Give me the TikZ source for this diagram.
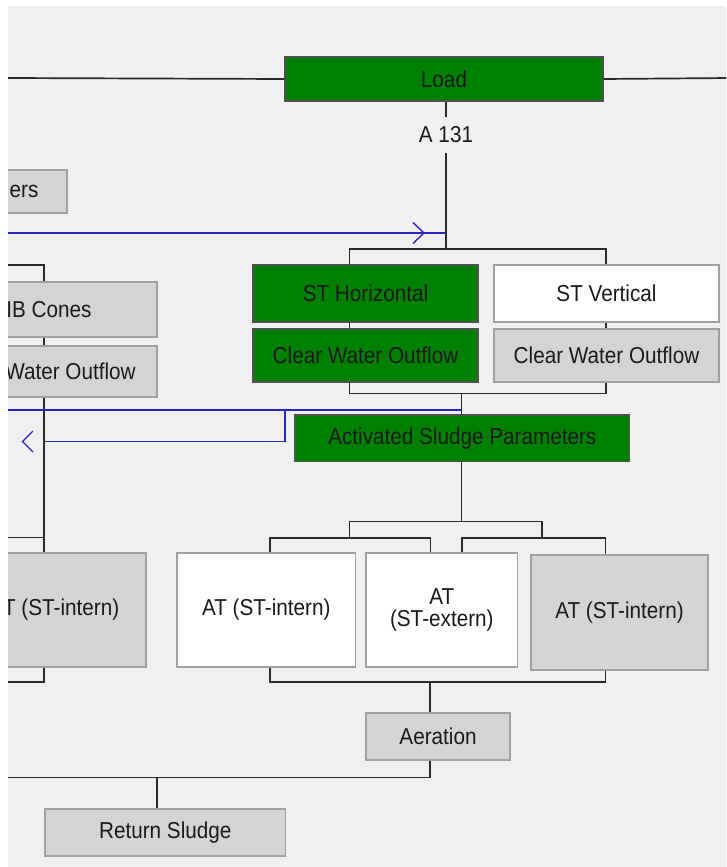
\documentclass[tikz,border=0pt]{standalone}
\usepackage{fontspec}
\setmainfont[FakeStretch=0.9]{Liberation Sans}
\definecolor{bgcol}{HTML}{F0F0F0}
\definecolor{grn}{HTML}{008000}
\definecolor{grayfill}{HTML}{D4D4D4}
\definecolor{grayline}{HTML}{A0A0A0}
\definecolor{grnline}{HTML}{505050}
\definecolor{txt}{HTML}{1A1A1A}
\definecolor{conncol}{HTML}{2A2A2A}
\definecolor{bluecol}{HTML}{2626C0}
\begin{document}
\begin{tikzpicture}[x=1pt,y=-1pt,
  boxbase/.style={line width=1.3pt, inner sep=0pt, font=\fontsize{23}{25}\selectfont, text=txt, align=center},
  greenbox/.style={boxbase, fill=grn, draw=grnline},
  graybox/.style={boxbase, fill=grayfill, draw=grayline},
  whitebox/.style={boxbase, fill=white, draw=grayline},
  plaintext/.style={inner sep=0pt, font=\fontsize{23}{25}\selectfont, text=txt},
  conn/.style={draw=conncol, line width=1.7pt},
  blueconn/.style={draw=bluecol, line width=1.4pt}]
\useasboundingbox (0,0) rectangle (726,867);
\fill[white] (0,0) rectangle (726,867);
\fill[bgcol] (8,6) rectangle (726,867);
\begin{scope}
\clip (8,6) rectangle (726,867);
% nodes
\node[greenbox, minimum width=318pt, minimum height=44pt] (load) at (444,79) {Load};
\node[graybox, minimum width=224pt, minimum height=43pt] (ers) at (-45,191.5) {};
\node[plaintext] (erst) at (24,191.5) {ers};
\node[greenbox, minimum width=225pt, minimum height=57pt] (stH) at (365.5,293.5) {ST Horizontal};
\node[whitebox, minimum width=225pt, minimum height=57pt] (stV) at (606.5,293.5) {ST Vertical};
\node[greenbox, minimum width=225pt, minimum height=53pt] (cwG) at (365.5,355.5) {Clear Water Outflow};
\node[graybox, minimum width=225pt, minimum height=53pt] (cwGr) at (606.5,355.5) {Clear Water Outflow};
\node[graybox, minimum width=224pt, minimum height=55pt] (ibc) at (45,309.5) {};
\node[plaintext] (ibct) at (49,309.5) {IB Cones};
\node[graybox, minimum width=224pt, minimum height=51pt] (wo) at (45,371.5) {};
\node[plaintext] (wot) at (70.5,371.5) {Water Outflow};
\node[greenbox, minimum width=334.6pt, minimum height=46.7pt] (asp) at (462.3,438.4) {Activated Sludge Parameters};
\node[graybox, minimum width=178pt, minimum height=114pt] (atL) at (57,610) {};
\node[plaintext] (atLt) at (55,610) {AT (ST-intern)};
\node[whitebox, minimum width=178.5pt, minimum height=114pt] (at1) at (266.25,610) {AT (ST-intern)};
\node[whitebox, minimum width=151.6pt, minimum height=114pt] (at2) at (441.8,610) {AT\\[-3pt](ST-extern)};
\node[graybox, minimum width=177pt, minimum height=115pt] (at3) at (619.5,612.5) {AT (ST-intern)};
\node[graybox, minimum width=144pt, minimum height=47pt] (aer) at (438,736.5) {Aeration};
\node[graybox, minimum width=240.6pt, minimum height=47pt] (ret) at (165.3,832.5) {Return Sludge};
% coordinates
\coordinate (tl) at (8,78);
\coordinate (tr) at (730,78);
\coordinate (j1) at (446,249);
\coordinate (bL) at (349.5,249);
\coordinate (bR) at (606,249);
\coordinate (c1) at (349.5,393.5);
\coordinate (c2) at (606,393.5);
\coordinate (c3) at (461.5,393.5);
\coordinate (d0) at (461.5,521.5);
\coordinate (d1) at (349.5,521.5);
\coordinate (d2) at (542,521.5);
\coordinate (d1b) at (349.5,538);
\coordinate (d2b) at (542,538);
\coordinate (e1) at (270,538);
\coordinate (e2) at (430.5,538);
\coordinate (f1) at (462,538);
\coordinate (f2) at (605.5,538);
\coordinate (g1) at (270,682);
\coordinate (g2) at (605.5,682);
\coordinate (g3) at (430,682);
\coordinate (h1) at (430,777.5);
\coordinate (h0) at (0,777.5);
\coordinate (h2) at (157,777.5);
\coordinate (k0) at (0,265);
\coordinate (k1) at (44,265);
\coordinate (m0) at (0,537.5);
\coordinate (m1) at (44,537.5);
\coordinate (n1) at (44,682);
\coordinate (n0) at (0,682);
\coordinate (bu0) at (0,233);
\coordinate (bu1) at (446,233);
\coordinate (bw0) at (0,410);
\coordinate (bw1) at (461.5,410);
\coordinate (bv1) at (285,410);
\coordinate (bv2) at (285,441.5);
\coordinate (bl) at (45,441.5);
% black connectors
\draw[conn] (tl) -- (load.west);
\draw[conn] (load.east) -- (tr);
\draw[conn] (load.south -| j1) -- (j1);
\draw[conn] (bL |- stH.north) -- (bL) -- (bR) -- (bR |- stV.north);
\draw[conn] (bL |- stH.south) -- (bL |- cwG.north);
\draw[conn] (bR |- stV.south) -- (bR |- cwGr.north);
\draw[conn] (bL |- cwG.south) -- (c1) -- (c2) -- (bR |- cwGr.south);
\draw[conn] (c3) -- (c3 |- asp.north);
\draw[conn] (asp.south -| d0) -- (d0);
\draw[conn] (d1b) -- (d1) -- (d2) -- (d2b);
\draw[conn] (e1 |- at1.north) -- (e1) -- (e2) -- (e2 |- at2.north);
\draw[conn] (f1 |- at2.north) -- (f1) -- (f2) -- (f2 |- at3.north);
\draw[conn] (g1 |- at1.south) -- (g1) -- (g2) -- (g2 |- at3.south);
\draw[conn] (g3) -- (g3 |- aer.north);
\draw[conn] (aer.south -| h1) -- (h1) -- (h0);
\draw[conn] (h2) -- (h2 |- ret.north);
\draw[conn] (k0) -- (k1) -- (k1 |- ibc.north);
\draw[conn] (k1 |- ibc.south) -- (k1 |- wo.north);
\draw[conn] (k1 |- wo.south) -- (k1 |- atL.north);
\draw[conn] (m0) -- (m1);
\draw[conn] (k1 |- atL.south) -- (n1) -- (n0);
% blue connectors
\draw[blueconn] (bu0) -- (bu1);
\draw[blueconn] (413,222.5) -- (424,233) -- (413,243.5);
\draw[blueconn] (bw0) -- (bw1);
\draw[blueconn] (bv1) -- (bv2) -- (bl);
\draw[blueconn] (33,431) -- (22.5,441.5) -- (33,452);
% label on load line
\node[fill=bgcol, inner sep=0pt, minimum height=36pt, minimum width=60pt, font=\fontsize{23}{25}\selectfont, text=txt] (a131) at (446,135) {A 131};
\end{scope}
\end{tikzpicture}
\end{document}
